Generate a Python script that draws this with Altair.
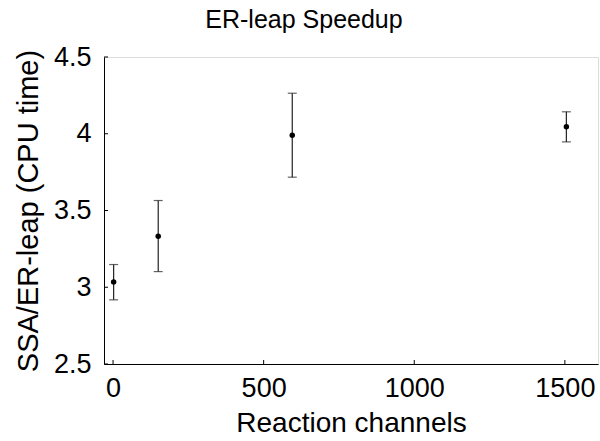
import altair as alt
import pandas as pd

channels = [2, 150, 595, 1505]
speedup = [3.035, 3.332, 3.990, 4.045]
upper = [3.148, 3.565, 4.264, 4.143]
lower = [2.918, 3.102, 3.717, 3.947]

x_ticks = [0, 500, 1000, 1500]
y_ticks = [2.5, 3.0, 3.5, 4.0, 4.5]

df = pd.DataFrame({"channels": channels, "speedup": speedup, "upper": upper, "lower": lower})
xt = pd.DataFrame({"t": x_ticks})
yt = pd.DataFrame({"t": y_ticks})

FONT = "Liberation Sans"
W, H = 494, 307

xscale = alt.Scale(domain=[-30, 1610], nice=False, zero=False)
yscale = alt.Scale(domain=[2.5, 4.5], nice=False, zero=False)

xaxis = alt.Axis(values=x_ticks, title="Reaction channels", labelFontSize=27, titleFontSize=28,
                 labelFont=FONT, titleFont=FONT, titleFontWeight="normal", ticks=False,
                 labelPadding=11, titlePadding=8, domainColor="black", labelColor="black",
                 titleColor="black", grid=False, labelFlush=False, format="d")
yaxis = alt.Axis(values=y_ticks, title="SSA/ER-leap (CPU time)", labelFontSize=27, titleFontSize=29,
                 labelFont=FONT, titleFont=FONT, titleFontWeight="normal", ticks=False,
                 labelPadding=13, titlePadding=10, domainColor="black", labelColor="black",
                 titleColor="black", grid=False, format="~g", labelFlush=False)

base = alt.Chart(df)

bars = base.mark_rule(color="#222222", strokeWidth=1.2).encode(
    x=alt.X("channels:Q", scale=xscale, axis=xaxis),
    y=alt.Y("lower:Q", scale=yscale, axis=yaxis),
    y2="upper:Q",
)
cap_top = base.mark_tick(color="#222222", orient="horizontal", size=9, thickness=1.2).encode(
    x=alt.X("channels:Q", scale=xscale), y=alt.Y("upper:Q", scale=yscale))
cap_bot = base.mark_tick(color="#222222", orient="horizontal", size=9, thickness=1.2).encode(
    x=alt.X("channels:Q", scale=xscale), y=alt.Y("lower:Q", scale=yscale))
pts = base.mark_point(filled=True, color="black", size=30, opacity=1).encode(
    x=alt.X("channels:Q", scale=xscale), y=alt.Y("speedup:Q", scale=yscale))

xtick = alt.Chart(xt).mark_rule(color="black", strokeWidth=1).encode(
    x=alt.X("t:Q", scale=xscale), y=alt.value(H), y2=alt.value(H - 4))
ytick = alt.Chart(yt).mark_rule(color="black", strokeWidth=1).encode(
    y=alt.Y("t:Q", scale=yscale), x=alt.value(0), x2=alt.value(4))

chart = alt.layer(bars, cap_top, cap_bot, pts, xtick, ytick).properties(
    width=W, height=H,
    title=alt.TitleParams("ER-leap Speedup", fontSize=25, font=FONT, fontWeight="normal",
                          color="black", dx=-47, offset=10, anchor="middle"),
    autosize=alt.AutoSizeParams(type="none"),
    padding={"left": 104, "top": 57, "right": 2, "bottom": 77},
).configure_view(stroke=None).configure(background="white")

chart.save("out.html", embed_options={"renderer": "svg", "actions": False})
